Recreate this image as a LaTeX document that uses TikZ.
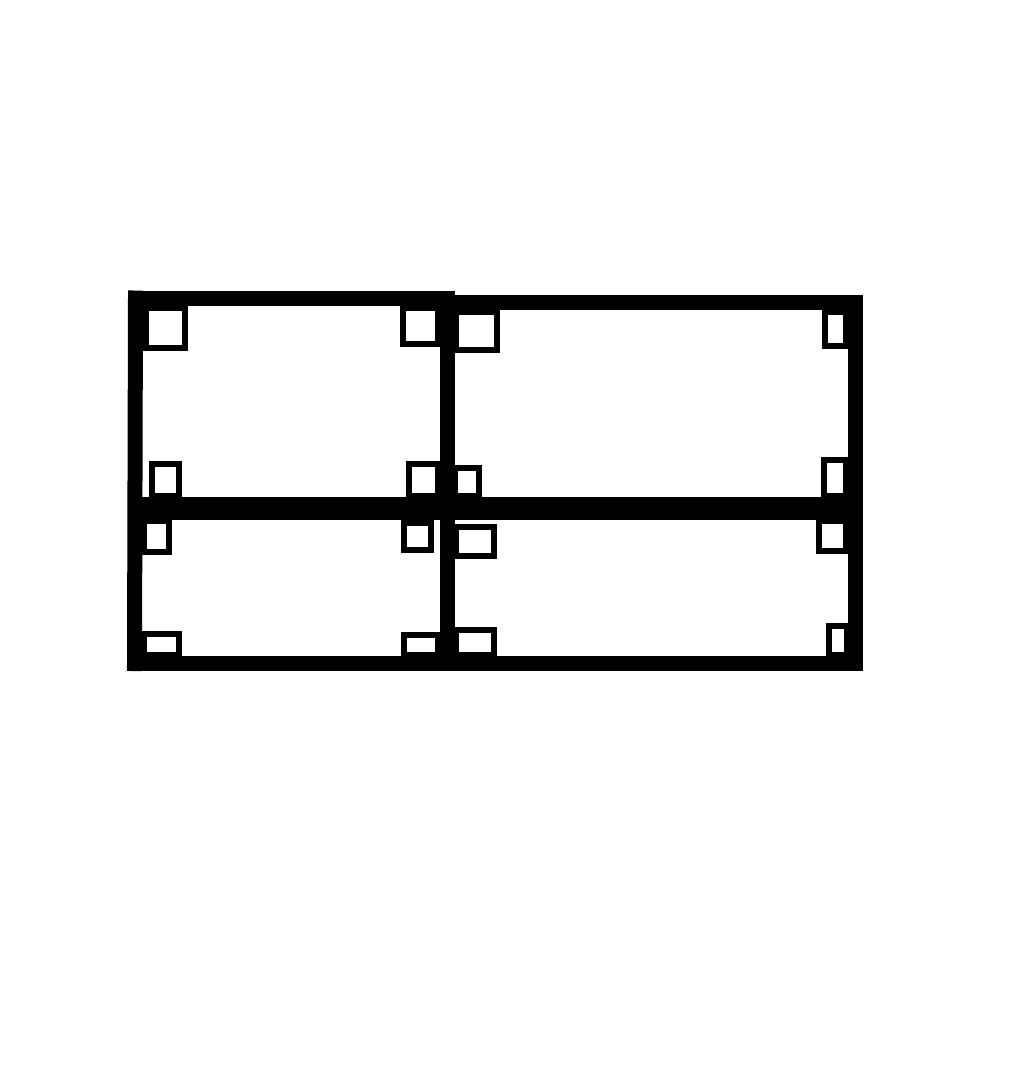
\documentclass[tikz,border=0pt]{standalone}
\usetikzlibrary{calc}
\tikzset{
  frame/.style={line width=15pt, line cap=rect, draw=black},
  divider/.style={line width=#1, draw=black},
  sqout/.style={fill=black},
  sqin/.style={fill=white}
}
\newcommand\cornersq[4]{%
  \fill[sqout] (#1,#2) rectangle (#3,#4);
  \fill[sqin] ($(#1,#2)+(6,6)$) rectangle ($(#3,#4)+(-6,-6)$);}
\begin{document}
\begin{tikzpicture}[x=1pt,y=-1pt]
\useasboundingbox[fill=white] (0,0) rectangle (1024,1080);
% outer frame
\coordinate (tl) at (135.5,298);
\coordinate (tm) at (447,298);
\coordinate (tm2) at (447,302.5);
\coordinate (tr) at (855,302.5);
\coordinate (br) at (855,663.5);
\coordinate (bl) at (134.5,663.5);
\draw[frame] (tl) -- (tm);
\draw[frame] (tm2) -- (tr);
\draw[frame] (tl) -- (bl);
\draw[frame] (tr) -- (br);
\draw[frame] (bl) -- (br);
% dividers
\coordinate (vt) at (447,292);
\coordinate (vb) at (447,670);
\coordinate (hl) at (128,508.5);
\coordinate (hr) at (862,508.5);
\draw[divider=15pt] (vt) -- (vb);
\draw[divider=23pt] (hl) -- (hr);
% top-left cell squares
\cornersq{143}{305}{188}{351}
\cornersq{400}{305}{441}{347}
\cornersq{149}{461}{182}{499}
\cornersq{406}{461}{441}{499}
% top-right cell squares
\cornersq{453}{309}{500}{353}
\cornersq{822}{309}{849}{349}
\cornersq{452}{465}{482}{499}
\cornersq{821}{457}{849}{499}
% bottom-left cell squares
\cornersq{141}{518}{172}{555}
\cornersq{401}{520}{434}{553}
\cornersq{141}{631}{182}{658}
\cornersq{401}{632}{441}{658}
% bottom-right cell squares
\cornersq{453}{524}{497}{559}
\cornersq{816}{518}{849}{554}
\cornersq{453}{627}{497}{658}
\cornersq{826}{623}{850}{658}
\end{tikzpicture}
\end{document}
